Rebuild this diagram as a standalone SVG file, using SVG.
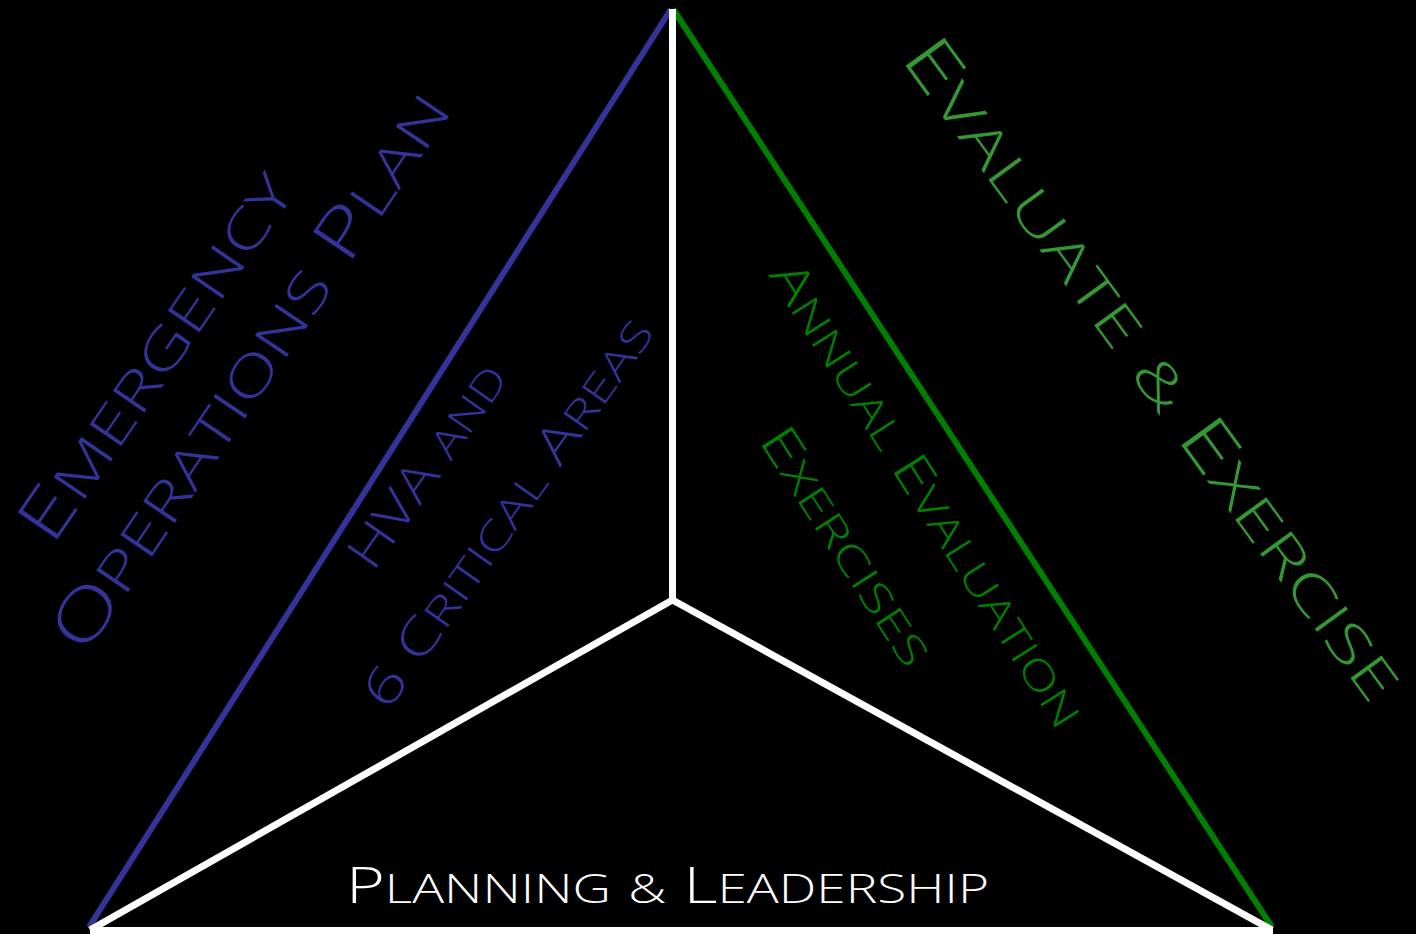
<svg xmlns="http://www.w3.org/2000/svg" width="1416" height="934" viewBox="0 0 1416 934">
<style>
.t{font-family:"Open Sans","DejaVu Sans",sans-serif;font-weight:300}
.big{font-size:67px}
.mid{font-size:50px}
.sc{font-size:0.8em;text-transform:uppercase}
.blue{fill:#333399}
.lg{fill:#339933}
.dg{fill:#008000}
.wl{stroke:#ffffff;stroke-width:7;fill:none}
</style>
<rect width="1416" height="934" fill="#000"/>
<g id="connectors">
<line x1="89" y1="927" x2="671" y2="9" stroke="#333399" stroke-width="6"/>
<line x1="673" y1="9" x2="1272" y2="927" stroke="#008000" stroke-width="6"/>
<line class="wl" x1="672.5" y1="9" x2="672.5" y2="600"/>
<line class="wl" x1="672.5" y1="600" x2="90" y2="930"/>
<line class="wl" x1="672.5" y1="600" x2="1272" y2="930"/>
<line class="wl" x1="90" y1="930.5" x2="1273" y2="930.5"/>
</g>
<g id="eop">
<text class="t big blue" transform="translate(52,547) rotate(-55.5)" textLength="432" lengthAdjust="spacingAndGlyphs">E<tspan class="sc">mergency</tspan></text>
<text class="t big blue" transform="translate(85,656) rotate(-56)" textLength="658" lengthAdjust="spacingAndGlyphs">O<tspan class="sc">perations</tspan> P<tspan class="sc">lan</tspan></text>
</g>
<g id="hva">
<text class="t mid blue" transform="translate(373,573) rotate(-55)" textLength="238" lengthAdjust="spacingAndGlyphs">HVA <tspan class="sc">and</tspan></text>
<text class="t mid blue" transform="translate(388,712) rotate(-54.8)" textLength="464" lengthAdjust="spacingAndGlyphs">6 C<tspan class="sc">ritical</tspan> A<tspan class="sc">reas</tspan></text>
</g>
<g id="evaluate">
<text class="t big lg" transform="translate(900,58) rotate(54)" textLength="801" lengthAdjust="spacingAndGlyphs">E<tspan class="sc">valuate</tspan> <tspan class="sc">&amp;</tspan> E<tspan class="sc">xercise</tspan></text>
</g>
<g id="annual">
<text class="t mid dg" transform="translate(768,275) rotate(57.6)" textLength="541" lengthAdjust="spacingAndGlyphs">A<tspan class="sc">nnual</tspan> E<tspan class="sc">valuation</tspan></text>
<text class="t mid dg" transform="translate(758,440) rotate(57.2)" textLength="274" lengthAdjust="spacingAndGlyphs">E<tspan class="sc">xercises</tspan></text>
</g>
<g id="planning">
<text class="t mid" fill="#ffffff" x="346" y="903" textLength="643" lengthAdjust="spacingAndGlyphs">P<tspan class="sc">lanning</tspan> <tspan class="sc">&amp;</tspan> L<tspan class="sc">eadership</tspan></text>
</g>
</svg>
